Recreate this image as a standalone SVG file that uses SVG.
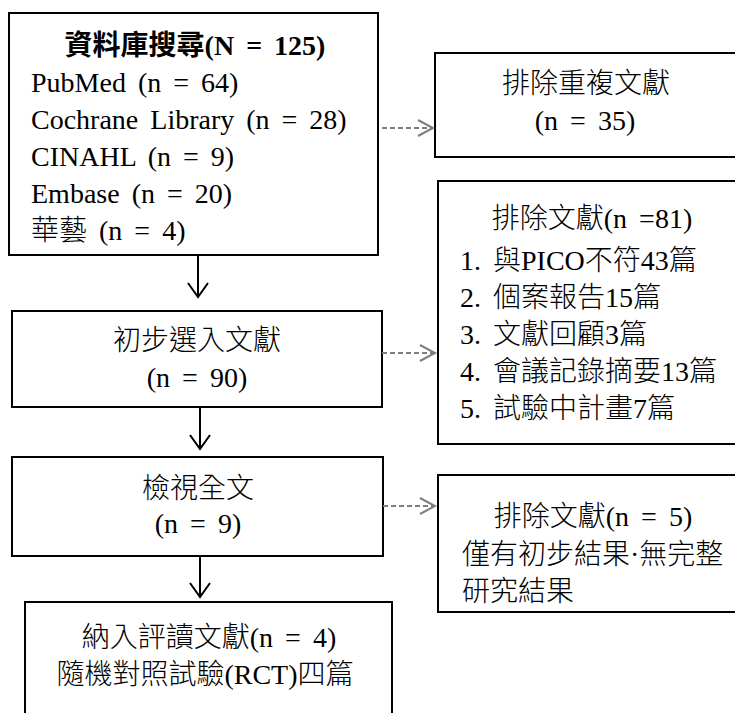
<svg xmlns="http://www.w3.org/2000/svg" width="735" height="713" viewBox="0 0 735 713">
<style>
.box{fill:#fff;stroke:#000;stroke-width:2}
text{font-family:"Liberation Serif",serif;font-size:28px;fill:#000;word-spacing:5px;white-space:pre}
.k{font-family:"Noto Sans CJK TC","Noto Sans CJK JP",sans-serif;font-weight:300}
.l{font-family:"Liberation Serif",serif}
.c{text-anchor:middle}
.b,.k.b{font-weight:bold}
.solid{stroke:#000;stroke-width:2;fill:none}
.dash{stroke:#7f7f7f;stroke-width:2;stroke-dasharray:5 3;fill:none}
.headS{stroke:#000;stroke-width:2;fill:none}
.headD{stroke:#7f7f7f;stroke-width:2;fill:none}
</style>
<rect width="735" height="713" fill="#fff"/>
<g id="search">
<rect class="box" x="9" y="13" width="369" height="242"/>
<text class="c b" x="195" y="55"><tspan class="k b">資料庫搜尋</tspan><tspan class="l">(N = 125)</tspan></text>
<text x="31" y="92">PubMed (n = 64)</text>
<text x="31" y="129">Cochrane Library (n = 28)</text>
<text x="31" y="166">CINAHL (n = 9)</text>
<text x="31" y="203">Embase (n = 20)</text>
<text x="31" y="240"><tspan class="k">華藝</tspan><tspan class="l"> (n = 4)</tspan></text>
</g>
<g id="dup">
<rect class="box" x="435" y="53" width="310" height="104"/>
<text class="c k" x="586" y="93">排除重複文獻</text>
<text class="c" x="585" y="130">(n = 35)</text>
</g>
<g id="screen">
<rect class="box" x="12" y="311" width="370" height="96"/>
<text class="c k" x="197" y="350">初步選入文獻</text>
<text class="c" x="197" y="387">(n = 90)</text>
</g>
<g id="excl1">
<rect class="box" x="438" y="181" width="310" height="263"/>
<text class="c" x="592" y="228"><tspan class="k">排除文獻</tspan><tspan class="l">(n =81)</tspan></text>
<text><tspan x="460" y="270"><tspan class="l">1. </tspan><tspan class="k">與</tspan><tspan class="l">PICO</tspan><tspan class="k">不符</tspan><tspan class="l">43</tspan><tspan class="k">篇</tspan></tspan><tspan x="460" y="307"><tspan class="l">2. </tspan><tspan class="k">個案報告</tspan><tspan class="l">15</tspan><tspan class="k">篇</tspan></tspan><tspan x="460" y="344"><tspan class="l">3. </tspan><tspan class="k">文獻回顧</tspan><tspan class="l">3</tspan><tspan class="k">篇</tspan></tspan><tspan x="460" y="381"><tspan class="l">4. </tspan><tspan class="k">會議記錄摘要</tspan><tspan class="l">13</tspan><tspan class="k">篇</tspan></tspan><tspan x="460" y="418"><tspan class="l">5. </tspan><tspan class="k">試驗中計畫</tspan><tspan class="l">7</tspan><tspan class="k">篇</tspan></tspan></text>
</g>
<g id="fulltext">
<rect class="box" x="12" y="457" width="371" height="99"/>
<text class="c k" x="198" y="498">檢視全文</text>
<text class="c" x="198" y="533">(n = 9)</text>
</g>
<g id="excl2">
<rect class="box" x="438" y="475" width="310" height="137"/>
<text class="c" x="593" y="526"><tspan class="k">排除文獻</tspan><tspan class="l">(n = 5)</tspan></text>
<text><tspan x="462" y="564"><tspan class="k">僅有初步結果</tspan><tspan class="l">·</tspan><tspan class="k">無完整</tspan></tspan><tspan class="k" x="462" y="601">研究結果</tspan></text>
</g>
<g id="included">
<rect class="box" x="25" y="602" width="367" height="130"/>
<text class="c"><tspan x="209" y="647"><tspan class="k">納入評讀文獻</tspan><tspan class="l">(n = 4)</tspan></tspan><tspan x="205" y="684"><tspan class="k">隨機對照試驗</tspan><tspan class="l">(RCT)</tspan><tspan class="k">四篇</tspan></tspan></text>
</g>
<g id="connectors">
<path class="solid" d="M198 255V297"/>
<path class="headS" d="M188 283L198 297L208 283"/>
<path class="solid" d="M200 407V449"/>
<path class="headS" d="M190 435L200 449L210 435"/>
<path class="solid" d="M200 556V597"/>
<path class="headS" d="M190 583L200 597L210 583"/>
<path class="dash" d="M382 128H432"/>
<path class="headD" d="M418 120L433 128L418 136"/>
<path class="dash" d="M382 353H434"/>
<path class="headD" d="M420 345L435 353L420 361"/>
<path class="dash" d="M383 506H434"/>
<path class="headD" d="M420 498L435 506L420 514"/>
</g>
</svg>
